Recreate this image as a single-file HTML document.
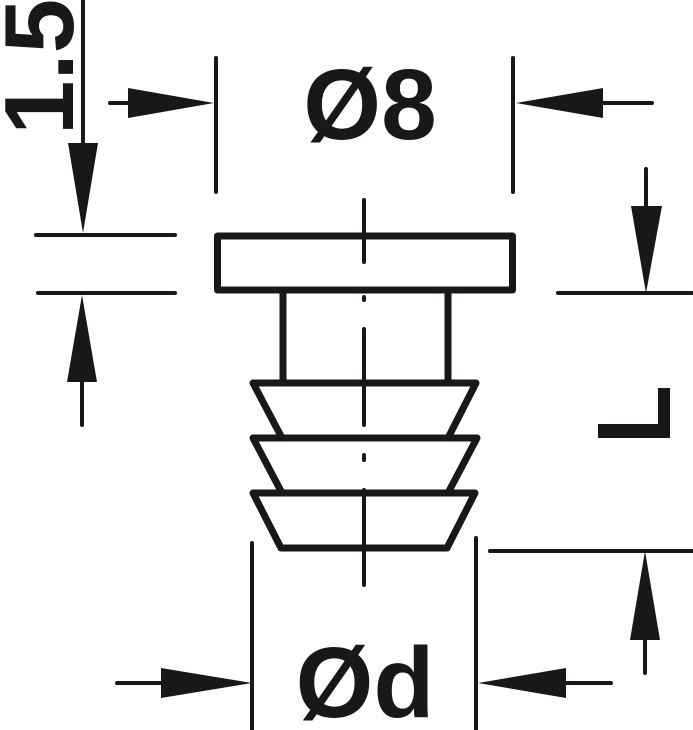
<!DOCTYPE html>
<html><head><style>html,body{margin:0;padding:0;background:#fff}svg{display:block}</style></head><body>
<svg width="693" height="730" viewBox="0 0 693 730" xmlns="http://www.w3.org/2000/svg">
<g stroke="#1a171b" fill="none" stroke-linecap="round" stroke-linejoin="round">
<rect x="217.5" y="236" width="295" height="54" stroke-width="7"/>
<line x1="283" y1="290" x2="283" y2="383" stroke-width="7"/>
<line x1="448" y1="290" x2="448" y2="383" stroke-width="7"/>
<polygon points="253,383 476,383 448,438 282,438" stroke-width="7"/>
<polygon points="253,438 477,438 448,493 282,493" stroke-width="7"/>
<polygon points="253,493 475,493 447,548 281,548" stroke-width="7"/>
<g stroke-width="4">
<line x1="364" y1="200" x2="364" y2="262"/><line x1="364" y1="297" x2="364" y2="300"/>
<line x1="364" y1="329" x2="364" y2="425"/><line x1="364" y1="455" x2="364" y2="460"/>
<line x1="364" y1="490" x2="364" y2="585"/>
<line x1="216" y1="58" x2="216" y2="192"/><line x1="513" y1="58" x2="513" y2="192"/>
<line x1="110" y1="103" x2="140" y2="103"/><line x1="600" y1="103" x2="652" y2="103"/>
<line x1="36" y1="235" x2="175" y2="235"/><line x1="38" y1="293" x2="175" y2="293"/>
<line x1="83" y1="0" x2="83" y2="150"/><line x1="82" y1="370" x2="82" y2="425"/>
<line x1="558" y1="293" x2="692" y2="293"/><line x1="646" y1="169" x2="646" y2="210"/>
<line x1="490" y1="551" x2="692" y2="551"/><line x1="645" y1="630" x2="645" y2="673"/>
<line x1="252" y1="543" x2="252" y2="730"/><line x1="476" y1="538" x2="476" y2="730"/>
<line x1="117" y1="683" x2="170" y2="683"/><line x1="560" y1="683" x2="611" y2="683"/>
</g>
</g>
<g fill="#1a171b">
<polygon points="128,88 128,118 214,103"/>
<polygon points="603,88 603,118 516,103"/>
<polygon points="68,143 98,143 83,233"/>
<polygon points="67,382 97,382 82,295"/>
<polygon points="631,206 662,206 646,293"/>
<polygon points="630,640 660,640 645,551"/>
<polygon points="161,668 161,698 252,683"/>
<polygon points="566,668 566,698 478,683"/>
<polygon points="658,388 670,388 670,438 598,438 598,424 658,424"/>
</g>
<g font-family="Liberation Sans, sans-serif" font-weight="bold" fill="#1a171b">
<text x="370" y="139" font-size="100" text-anchor="middle">Ø8</text>
<text x="365" y="717" font-size="100" text-anchor="middle">Ød</text>
<text transform="translate(73,135) rotate(-90)" font-size="98">1.5</text>
</g>
</svg>
</body></html>
